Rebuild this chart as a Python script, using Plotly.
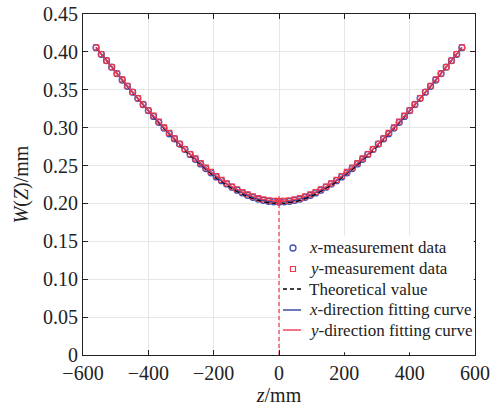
import plotly.graph_objects as go

z_mm = [-560, -544, -528, -512, -496, -480, -464, -448, -432, -416, -400, -384, -368, -352,
        -336, -320, -304, -288, -272, -256, -240, -224, -208, -192, -176, -160, -144, -128,
        -112, -96, -80, -64, -48, -32, -16, 0, 16, 32, 48, 64, 80, 96, 112, 128, 144, 160,
        176, 192, 208, 224, 240, 256, 272, 288, 304, 320, 336, 352, 368, 384, 400, 416, 432,
        448, 464, 480, 496, 512, 528, 544, 560]

w_theory = [0.4060, 0.3972, 0.3886, 0.3799, 0.3714, 0.3629, 0.3545, 0.3463, 0.3381, 0.3300,
            0.3220, 0.3142, 0.3064, 0.2989, 0.2914, 0.2842, 0.2771, 0.2702, 0.2635, 0.2571,
            0.2509, 0.2449, 0.2392, 0.2338, 0.2288, 0.2240, 0.2197, 0.2157, 0.2121, 0.2090,
            0.2063, 0.2040, 0.2023, 0.2010, 0.2003, 0.2000, 0.2003, 0.2010, 0.2023, 0.2040,
            0.2063, 0.2090, 0.2121, 0.2157, 0.2197, 0.2240, 0.2288, 0.2338, 0.2392, 0.2449,
            0.2509, 0.2571, 0.2635, 0.2702, 0.2771, 0.2842, 0.2914, 0.2989, 0.3064, 0.3142,
            0.3220, 0.3300, 0.3381, 0.3463, 0.3545, 0.3629, 0.3714, 0.3799, 0.3886, 0.3972,
            0.4060]

w_x_meas = [0.4056, 0.3968, 0.3886, 0.3799, 0.3714, 0.3629, 0.3545, 0.3469, 0.3387, 0.3306,
            0.3226, 0.3148, 0.3070, 0.2995, 0.2920, 0.2854, 0.2783, 0.2714, 0.2647, 0.2583,
            0.2521, 0.2461, 0.2404, 0.2350, 0.2300, 0.2258, 0.2215, 0.2175, 0.2139, 0.2108,
            0.2081, 0.2058, 0.2041, 0.2028, 0.2021, 0.2018, 0.2021, 0.2028, 0.2041, 0.2058,
            0.2081, 0.2108, 0.2139, 0.2175, 0.2215, 0.2258, 0.2300, 0.2350, 0.2404, 0.2461,
            0.2521, 0.2583, 0.2647, 0.2714, 0.2783, 0.2854, 0.2920, 0.2995, 0.3070, 0.3148,
            0.3226, 0.3306, 0.3387, 0.3469, 0.3545, 0.3629, 0.3714, 0.3799, 0.3886, 0.3968,
            0.4056]

w_y_meas = [0.4060, 0.3972, 0.3886, 0.3799, 0.3714, 0.3637, 0.3553, 0.3471, 0.3389, 0.3308,
            0.3228, 0.3158, 0.3080, 0.3005, 0.2930, 0.2858, 0.2787, 0.2718, 0.2651, 0.2595,
            0.2533, 0.2473, 0.2416, 0.2362, 0.2312, 0.2264, 0.2221, 0.2187, 0.2151, 0.2120,
            0.2093, 0.2070, 0.2053, 0.2040, 0.2033, 0.2030, 0.2033, 0.2040, 0.2053, 0.2070,
            0.2093, 0.2120, 0.2151, 0.2187, 0.2221, 0.2264, 0.2312, 0.2362, 0.2416, 0.2473,
            0.2533, 0.2595, 0.2651, 0.2718, 0.2787, 0.2858, 0.2930, 0.3005, 0.3080, 0.3158,
            0.3228, 0.3308, 0.3389, 0.3471, 0.3553, 0.3637, 0.3714, 0.3799, 0.3886, 0.3972,
            0.4060]

waist_z = [0, 0]
waist_w = [0, 0.2030]

x_ticks = [-600, -400, -200, 0, 200, 400, 600]
y_ticks = [0, 0.05, 0.10, 0.15, 0.20, 0.25, 0.30, 0.35, 0.40, 0.45]
y_tick_text = ["0", "0.05", "0.10", "0.15", "0.20", "0.25", "0.30", "0.35", "0.40", "0.45"]

legend_labels = ["<i>x</i>-measurement data", "<i>y</i>-measurement data", "Theoretical value",
                 "<i>x</i>-direction fitting curve", "<i>y</i>-direction fitting curve"]

BLUE = "#3f51b5"
BLUE_LINE = "#2f3f9e"
RED = "#ec3a50"
FONT = "Liberation Serif"

fig = go.Figure()

fig.add_trace(go.Scatter(x=waist_z, y=waist_w, mode="lines",
                         line=dict(color=RED, width=1.2, dash="4px,3px"),
                         showlegend=False, hoverinfo="skip"))
fig.add_trace(go.Scatter(x=z_mm, y=w_x_meas, mode="markers", name=legend_labels[0],
                         marker=dict(symbol="circle-open", size=6, color=BLUE,
                                     line=dict(width=1.3, color=BLUE))))
fig.add_trace(go.Scatter(x=z_mm, y=w_y_meas, mode="markers", name=legend_labels[1],
                         marker=dict(symbol="square-open", size=5, color=RED,
                                     line=dict(width=1.2, color=RED))))
fig.add_trace(go.Scatter(x=z_mm, y=w_theory, mode="lines", name=legend_labels[2],
                         line=dict(color="black", width=1.4, dash="5px,3px")))
fig.add_trace(go.Scatter(x=z_mm, y=w_x_meas, mode="lines", name=legend_labels[3],
                         line=dict(color=BLUE_LINE, width=1.4, shape="spline")))
fig.add_trace(go.Scatter(x=z_mm, y=w_y_meas, mode="lines", name=legend_labels[4],
                         line=dict(color=RED, width=1.4, shape="spline")))
fig.add_trace(go.Scatter(x=[waist_z[1]], y=[waist_w[1]], mode="markers",
                         marker=dict(symbol="asterisk-open", size=8, color=RED,
                                     line=dict(width=1.5, color=RED)),
                         showlegend=False, hoverinfo="skip"))

# ---- legend drawn in paper coordinates (compact rows as in the reference) ----
row_y = [0.3138, 0.2522, 0.1935, 0.1320, 0.0733]
sym_x = 0.5357
line_x0, line_x1 = 0.5102, 0.5561
text_x = 0.5714

shapes = [dict(type="rect", xref="paper", yref="paper", x0=0.505, x1=0.997, y0=0.008, y1=0.35,
               fillcolor="white", line=dict(width=0), layer="above")]
shapes.append(dict(type="circle", xref="paper", yref="paper", xsizemode="pixel", ysizemode="pixel",
                   xanchor=sym_x, yanchor=row_y[0], x0=-3, x1=3, y0=-3, y1=3,
                   line=dict(color=BLUE, width=1.3), layer="above"))
shapes.append(dict(type="rect", xref="paper", yref="paper", xsizemode="pixel", ysizemode="pixel",
                   xanchor=sym_x, yanchor=row_y[1], x0=-2.5, x1=2.5, y0=-2.5, y1=2.5,
                   line=dict(color=RED, width=1.2), layer="above"))
shapes.append(dict(type="line", xref="paper", yref="paper", x0=line_x0, x1=line_x1,
                   y0=row_y[2], y1=row_y[2], line=dict(color="black", width=1.4, dash="4px,3px"),
                   layer="above"))
shapes.append(dict(type="line", xref="paper", yref="paper", x0=line_x0, x1=line_x1,
                   y0=row_y[3], y1=row_y[3], line=dict(color=BLUE_LINE, width=1.4),
                   layer="above"))
shapes.append(dict(type="line", xref="paper", yref="paper", x0=line_x0, x1=line_x1,
                   y0=row_y[4], y1=row_y[4], line=dict(color=RED, width=1.4),
                   layer="above"))

annotations = [dict(text=lab, xref="paper", yref="paper", x=text_x, y=ry, xanchor="left",
                    yanchor="middle", showarrow=False,
                    font=dict(family=FONT, size=17, color="#222"))
               for lab, ry in zip(legend_labels, row_y)]

fig.update_layout(
    width=491, height=410,
    margin=dict(l=83, r=16, t=14, b=55),
    paper_bgcolor="white", plot_bgcolor="white",
    font=dict(family=FONT, size=20, color="#222"),
    showlegend=False,
    shapes=shapes,
    annotations=annotations,
)

fig.update_xaxes(range=[-600, 600], tickvals=x_ticks, showgrid=True, gridcolor="#e6e6e6",
                 gridwidth=1, zeroline=False, showline=True, linecolor="#222", linewidth=1.2,
                 mirror="ticks", ticks="inside", ticklen=5, tickcolor="#222", automargin=False,
                 tickfont=dict(family=FONT, size=20),
                 title=dict(text="<i>z</i>/mm", font=dict(family=FONT, size=20), standoff=2))
fig.update_yaxes(range=[0, 0.45], tickvals=y_ticks, ticktext=y_tick_text, showgrid=True,
                 gridcolor="#e6e6e6", gridwidth=1, zeroline=False, showline=True,
                 linecolor="#222", linewidth=1.2, mirror="ticks", ticks="inside", ticklen=5,
                 tickcolor="#222", automargin=False,
                 tickfont=dict(family=FONT, size=20),
                 title=dict(text="<i>W</i>(<i>Z</i>)/mm", font=dict(family=FONT, size=20), standoff=8))

fig.write_html("out.html", config={"displayModeBar": False},
               post_script="document.body.style.margin='0';document.body.style.overflow='hidden';")
